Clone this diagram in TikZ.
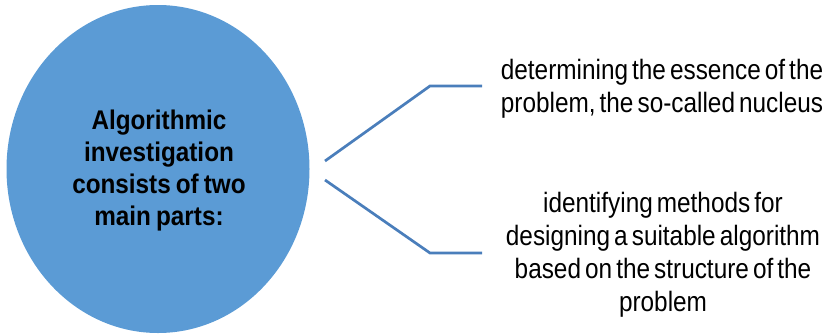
\documentclass[tikz,border=0pt]{standalone}
\usepackage{fontspec}
\usetikzlibrary{shapes.geometric}
\setmainfont{Liberation Sans}
\newfontfamily\regf{Liberation Sans}[FakeStretch=0.87,WordSpace=0.6]
\newfontfamily\boldf{Liberation Sans}[FakeStretch=0.9,WordSpace=0.75]
\begin{document}
\begin{tikzpicture}[x=1pt,y=-1pt,
  txt/.style={align=center,inner sep=0pt,font=\regf\fontsize{28}{33}\selectfont},
  ctxt/.style={align=center,inner sep=0pt,font=\boldf\bfseries\fontsize{27}{32}\selectfont},
  link/.style={draw=linkblue,line width=2.7pt}]
\definecolor{circblue}{HTML}{5B9BD5}
\definecolor{linkblue}{HTML}{4A7EBB}
\useasboundingbox (0,0) rectangle (829,335);
\node[ellipse,fill=circblue,minimum width=303pt,minimum height=328pt,inner sep=0pt] (c) at (158,169) {};
\node[ctxt] (ct) at (159,171) {Algorithmic\\investigation\\consists of two\\main parts:};
\node[txt] (t1) at (662,89) {determining the essence of the\\problem, the so-called nucleus};
\node[txt] (t2) at (663,255) {identifying methods for\\designing a suitable algorithm\\based on the structure of the\\problem};
\coordinate (s1) at (325,161);
\coordinate (b1) at (430,86);
\coordinate (e1) at (482,86);
\coordinate (s2) at (325,180);
\coordinate (b2) at (430,253);
\coordinate (e2) at (482,253);
\draw[link] (s1) -- (b1) -- (e1);
\draw[link] (s2) -- (b2) -- (e2);
\end{tikzpicture}
\end{document}
